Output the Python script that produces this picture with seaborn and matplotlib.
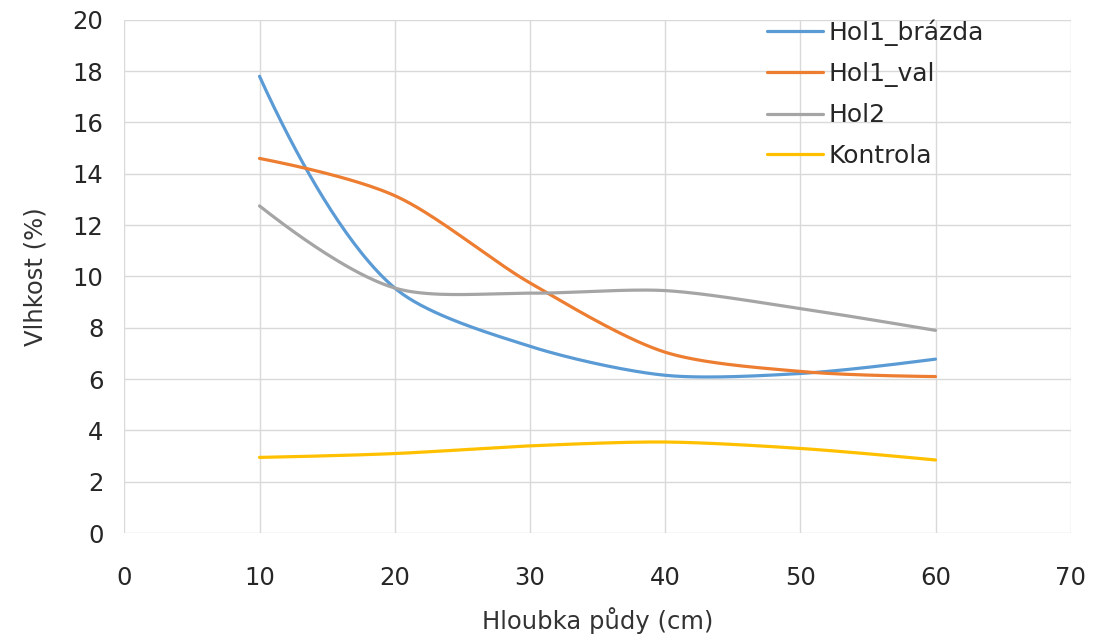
import numpy as np
import pandas as pd
import matplotlib
matplotlib.use("Agg")
import matplotlib.pyplot as plt
import seaborn as sns

# Data
depth = [10, 20, 30, 40, 50, 60]
hol1_brazda = [17.8, 9.55, 7.28, 6.15, 6.22, 6.78]
hol1_val = [14.6, 13.15, 9.75, 7.05, 6.3, 6.1]
hol2 = [12.75, 9.55, 9.35, 9.45, 8.75, 7.9]
kontrola = [2.95, 3.1, 3.4, 3.55, 3.3, 2.85]

series_names = ["Hol1_brázda", "Hol1_val", "Hol2", "Kontrola"]
series_values = [hol1_brazda, hol1_val, hol2, kontrola]
colors = ["#5B9BD5", "#ED7D31", "#A5A5A5", "#FFC000"]

x_ticks = [0, 10, 20, 30, 40, 50, 60, 70]
y_ticks = [0, 2, 4, 6, 8, 10, 12, 14, 16, 18, 20]

sns.set_theme(style="white")
plt.rcParams["font.family"] = ["DejaVu Sans"]

fig = plt.figure(figsize=(11.2, 6.4), dpi=100)
ax = fig.add_axes([0.111, 0.167, 0.845, 0.802])
ax.set_xlim(0, 70)
ax.set_ylim(0, 20)


def _unit(v):
    n = np.hypot(v[0], v[1])
    return v / n if n > 0 else v


def smooth(xs, ys, k=0.28, n=40):
    """Excel-like smoothed line: Bezier segments built in display space."""
    P = ax.transData.transform(np.column_stack([xs, ys]).astype(float))
    m = len(P)
    tang = [None] * m
    for i in range(1, m - 1):
        tang[i] = _unit(_unit(P[i] - P[i - 1]) + _unit(P[i + 1] - P[i]))
    tang[0] = _unit(1.5 * _unit(P[1] - P[0]) - 0.5 * tang[1])
    tang[-1] = _unit(1.5 * _unit(P[-1] - P[-2]) - 0.5 * tang[-2])
    out = []
    t = np.linspace(0, 1, n)[:, None]
    for i in range(m - 1):
        d = np.hypot(*(P[i + 1] - P[i]))
        c1 = P[i] + tang[i] * d * k
        c2 = P[i + 1] - tang[i + 1] * d * k
        seg = ((1 - t) ** 3) * P[i] + 3 * ((1 - t) ** 2) * t * c1 + 3 * (1 - t) * t ** 2 * c2 + t ** 3 * P[i + 1]
        if i > 0:
            seg = seg[1:]
        out.append(seg)
    out = ax.transData.inverted().transform(np.vstack(out))
    return out[:, 0], out[:, 1]


rows = []
for name, vals in zip(series_names, series_values):
    sx, sy = smooth(depth, vals)
    for k, (a, b) in enumerate(zip(sx, sy)):
        rows.append({"order": k, "x": a, "y": b, "serie": name})
df = pd.DataFrame(rows)

sns.lineplot(data=df, x="x", y="y", hue="serie", hue_order=series_names,
             palette=colors, sort=False, estimator=None, units="serie",
             linewidth=2.3, ax=ax)

ax.set_xlim(0, 70)
ax.set_ylim(0, 20)
ax.set_xticks(x_ticks)
ax.set_yticks(y_ticks)
ax.grid(True, color="#d9d9d9", linewidth=1.0)
ax.set_axisbelow(True)
for s in ax.spines.values():
    s.set_visible(False)
ax.tick_params(axis="both", labelsize=17.5, length=0)
ax.tick_params(axis="x", pad=24)
ax.tick_params(axis="y", pad=15)
for lbl in ax.get_xticklabels() + ax.get_yticklabels():
    lbl.set_color("#262626")

ax.set_xlabel("Hloubka půdy (cm)", fontsize=17.5, color="#333333", labelpad=12)
ax.set_ylabel("Vlhkost (%)", fontsize=17.5, color="#333333", labelpad=18)

leg = ax.legend(loc="upper left", bbox_to_anchor=(767 / 1120, 1 - 19 / 640),
                bbox_transform=fig.transFigure, frameon=False,
                fontsize=18, handlelength=2.25, handletextpad=0.2,
                labelspacing=0.66, borderaxespad=0, borderpad=0)
for t in leg.get_texts():
    t.set_color("#262626")

fig.savefig("out.png", dpi=100, facecolor="white")
